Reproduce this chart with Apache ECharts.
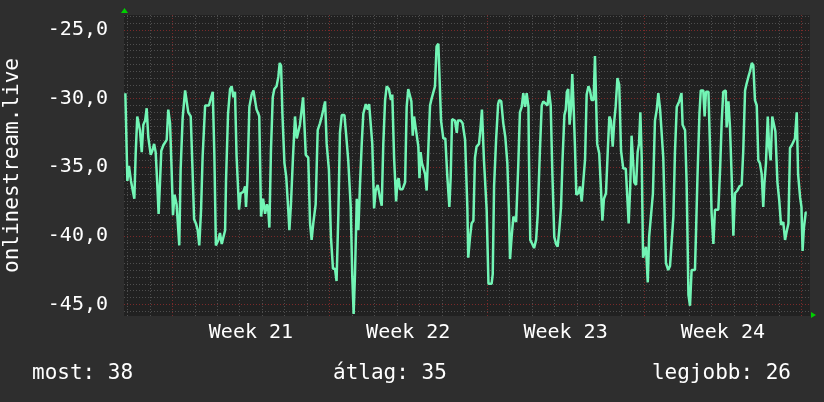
<!DOCTYPE html>
<html>
<head>
<meta charset="utf-8">
<script src="https://cdn.jsdelivr.net/npm/echarts@6/dist/echarts.min.js"></script>
<style>
  html, body { margin: 0; padding: 0; background: #2e2e2e; }
  #chart { width: 824px; height: 402px; }
</style>
</head>
<body>
<div id="chart"></div>
<script>
// x = days since the start of week 21, y = measured value
const days = [
  -2.09,-2.06,-2.00,-1.93,-1.88,-1.84,-1.76,-1.69,-1.63,-1.56,-1.48,-1.44,-1.36,-1.29,-1.21,-1.14,-1.07,-0.96,-0.89,-0.81,-0.74,-0.67,-0.61,-0.55,-0.49,-0.40,-0.25,-0.18,-0.10,-0.03,
  0.03,0.10,0.19,0.31,0.37,0.46,0.57,0.64,0.71,0.82, 0.89,0.97,1.05,1.13,1.20,1.28,1.35,1.46,1.63,1.71, 1.80,1.87,1.94,2.05,2.12,2.20,2.27,2.35,2.39,2.48, 2.57,2.64,2.72,2.79,2.86,2.97,3.04,3.16,3.24,3.28, 3.34,3.43,3.53,3.61,3.68,3.75,3.83,
  3.87,3.95,4.04,4.13,4.21,4.27,4.32,4.39,4.47,4.54, 4.64,4.72,4.78,4.84,4.90,4.99,5.07,5.16,5.21,5.28, 5.37,5.46,5.54,5.61,5.68,5.76,5.82,5.88,5.94,6.05, 6.13,6.20,6.28,6.38,6.47,6.57,6.65,6.72,6.80,6.87, 6.97,7.06,7.15,7.24,7.31,7.39,7.46,7.54,7.66,7.73, 7.83,7.94,8.01,8.07,8.13,8.21,8.28,8.35,8.43,8.50, 8.61,8.70,8.76,8.83,8.90,8.98,9.05,9.14,9.24,9.32, 9.39,9.47,9.54,9.64,9.73,9.79,9.87,
  9.96,10.02,10.07,10.13,10.25,10.36,10.43,10.50,10.58,10.64, 10.70,10.76,10.82,10.88,10.95,11.00,11.05,11.11,11.17,11.25, 11.32,11.39,11.47,11.54,11.62,11.69,11.76,11.84,11.91,11.96, 12.06,12.15,12.24,12.33,12.39,12.45,12.58,12.66,12.71,12.83, 12.92,13.03,13.13,13.17,13.25,13.32,13.40,13.47,13.54,13.65, 13.72,13.78,13.87,13.99,14.07,14.21,14.26,14.32,14.41,14.50, 14.55,14.64,14.73,14.82,14.91,14.98,15.03,15.10,15.18,15.30, 15.40,15.47,15.55,15.62,15.70,15.77,15.85,15.87,
  15.93,16.02,16.10,16.19,16.26,16.36,16.44,16.51,16.59,16.70, 16.76,16.84,16.91,17.00,17.08,17.15,17.22,17.30,17.37,17.45, 17.51,17.56,17.62,17.68,17.74,17.80,17.86,17.92,17.98,18.07, 18.14,18.22,18.29,18.37,18.44,18.52,18.59,18.66,18.75,18.81, 18.86,18.91,19.00,19.08,19.14,19.21,19.30,19.38,19.45,19.52, 19.60,19.67,19.73,19.81,19.89,19.97,20.07,20.18,20.25,20.31, 20.38,20.44,20.50,20.56,20.64,20.71,20.77,20.83,20.89,20.95, 21.01,21.08,21.16,21.22,21.30,21.39,21.48,21.56,21.63,21.71, 21.78,21.85,
  21.97,22.07,22.15,22.22,22.30,22.37,22.45,22.56,22.66,22.71, 22.82,22.89,22.97,23.04,23.11,23.19,23.26,23.31,23.37,23.46, 23.52,23.63,23.69,23.75,23.86,23.93,24.00,24.08,24.15,24.23, 24.30,24.38,24.45,24.52,24.63,24.67,24.75,24.82,24.89,24.97, 25.04,25.15,25.24,25.34,25.41,25.49,25.56,25.64,25.71,25.79, 25.86,25.93,26.01,26.08,26.15,26.23,26.30,26.35,26.42,26.50, 26.56,26.63,26.70,26.78,26.84,26.93,27.01,27.09,27.19,27.27, 27.34,27.42,27.49,27.57,27.64,27.71,27.79,27.85,27.94,28.00, 28.05,28.11,28.19,28.23
];
const values = [
  -29.6,-31.7,-36.0,-34.9,-34.9,-36.0,-36.1,-37.3,-34.0,-31.3,-31.3,-32.3,-33.9,-31.9,-31.6,-30.7,-32.8,-34.1,-33.8,-33.3,-33.9,-36.2,-38.4,-36.2,-33.8,-33.4,-33.0,-30.8,-31.8,-35.2,
  -38.5,-37.0,-37.7,-40.7,-35.2,-31.4,-29.4,-29.4,-31.0,-31.3, -34.7,-38.8,-39.1,-39.6,-40.7,-38.1,-34.2,-30.5,-30.5,-30.0, -29.5,-34.0,-40.7,-40.3,-39.8,-40.6,-40.6,-39.6,-36.0,-31.1, -29.3,-29.1,-29.9,-29.5,-34.2,-38.1,-36.9,-36.8,-36.4,-37.9, -36.0,-30.6,-29.7,-29.4,-29.3,-30.8,-31.1,
  -31.3,-38.6,-37.3,-38.4,-37.7,-38.1,-39.4,-33.8,-29.9,-29.3, -29.1,-28.4,-27.4,-27.6,-31.1,-34.7,-35.7,-38.1,-39.6,-37.7, -34.3,-31.3,-32.9,-32.8,-31.9,-31.8,-29.9,-31.9,-34.1,-34.3, -39.1,-40.3,-39.0,-37.7,-32.3,-31.8,-31.3,-30.8,-30.2,-33.3, -35.2,-40.1,-42.4,-42.4,-43.3,-38.4,-32.5,-31.2,-31.2,-32.5, -34.5,-37.9,-43.0,-45.7,-42.8,-37.3,-39.6,-36.4,-33.3,-31.1, -30.4,-30.8,-30.4,-30.4,-33.3,-38.0,-36.7,-36.3,-37.2,-37.8, -33.3,-30.1,-29.1,-29.3,-30.1,-29.7,-34.3,
  -37.5,-36.0,-35.8,-36.6,-36.6,-36.1,-30.6,-29.3,-29.3,-30.2, -32.7,-31.3,-31.3,-32.7,-33.5,-35.8,-33.9,-34.7,-34.6,-35.5, -36.7,-33.8,-30.5,-30.0,-30.1,-29.1,-26.2,-26.0,-26.0,-31.6, -32.9,-32.9,-35.7,-37.9,-35.7,-31.5,-31.6,-32.5,-31.6,-31.6, -31.8,-33.0,-37.9,-41.6,-40.1,-39.1,-38.9,-34.3,-33.5,-33.3, -32.1,-30.8,-34.5,-38.1,-43.5,-43.5,-42.8,-36.4,-33.0,-30.4, -30.1,-30.2,-31.8,-32.8,-34.7,-38.1,-41.7,-40.1,-38.6,-39.0, -34.7,-31.0,-30.6,-29.6,-30.6,-29.6,-30.6,-34.0,
  -40.3,-40.6,-40.9,-40.3,-38.5,-33.8,-30.5,-30.2,-30.1,-30.5, -29.4,-30.5,-35.2,-40.1,-40.6,-40.8,-39.6,-37.9,-34.3,-31.2, -30.8,-29.5,-29.3,-31.9,-30.8,-28.2,-30.6,-33.5,-37.0,-36.9, -36.4,-37.5,-37.5,-34.4,-29.7,-29.1,-29.4,-30.1,-30.1,-26.9, -26.9,-33.3,-34.0,-36.7,-38.9,-37.3,-36.9,-33.8,-31.3,-31.6, -33.5,-31.6,-30.6,-28.5,-29.0,-33.8,-35.1,-35.1,-37.2,-39.1, -36.4,-32.7,-32.7,-36.1,-36.3,-33.9,-33.3,-31.0,-34.3,-41.6, -41.6,-40.8,-43.4,-40.1,-40.1,-36.9,-31.6,-30.8,-29.6,-30.8, -30.7,-34.3,
  -42.0,-42.5,-42.2,-42.3,-38.6,-33.9,-30.6,-30.2,-29.6,-31.9, -32.3,-36.2,-44.3,-45.1,-42.5,-42.5,-42.5,-39.6,-35.8,-31.1, -29.4,-29.4,-31.3,-29.5,-29.5,-33.5,-38.3,-40.6,-38.1,-38.1, -38.1,-35.1,-31.7,-29.5,-29.4,-32.1,-30.2,-32.1,-35.5,-40.0, -36.9,-36.7,-36.4,-36.3,-33.8,-29.4,-28.9,-28.4,-28.0,-27.4, -27.6,-30.1,-30.5,-34.5,-34.7,-35.5,-37.9,-36.2,-34.7,-31.3, -33.5,-34.5,-31.3,-31.2,-32.4,-36.1,-37.4,-39.2,-39.0,-40.3, -39.7,-39.1,-33.6,-33.4,-33.3,-32.9,-31.0,-35.5,-37.2,-37.9, -41.1,-39.4,-38.3,-38.3
];

const weekPos = [3.5, 10.5, 17.5, 24.5];
const weekLabels = ['Week 21', 'Week 22', 'Week 23', 'Week 24'];
const weekStarts = [0, 7, 14, 21, 28];
const yTicks = [-45, -40, -35, -30, -25];
const footer = ['most: 38', 'átlag: 35', 'legjobb: 26'];

if (days.length !== values.length) console.log('length mismatch', days.length, values.length);

const FONT = 'DejaVu Sans Mono';
const textCol = '#ffffff';

// grid lines (rrdtool style): minor gray every day / 0.5 unit, major red
const minorStyle = { color: '#4e4e4e', type: [1, 2], width: 1 };
const majorStyle = { color: '#7a2a2a', type: [1, 2], width: 1 };
const gridLines = [];
for (let d = -2; d <= 28; d++) {
  gridLines.push({ xAxis: d, lineStyle: weekStarts.includes(d) ? majorStyle : minorStyle });
}
for (let v = -45.5; v <= -24; v += 0.5) {
  gridLines.push({ yAxis: v, lineStyle: yTicks.includes(v) ? majorStyle : minorStyle });
}

const chart = echarts.init(document.getElementById('chart'));

chart.setOption({
  backgroundColor: '#2e2e2e',
  animation: false,
  title: [
    { text: footer[0], left: 32, top: 363, padding: 0 },
    { text: footer[1], left: 333, top: 363, padding: 0 },
    { text: footer[2], right: 33, top: 363, padding: 0 }
  ].map(t => Object.assign(t, {
    textStyle: { color: textCol, fontFamily: FONT, fontSize: 21, fontWeight: 'normal' }
  })),
  grid: {
    left: 124, right: 14, top: 15, bottom: 86,
    outerBoundsMode: 'none',
    containLabel: false,
    show: true, backgroundColor: '#212121', borderWidth: 0
  },
  xAxis: {
    type: 'value',
    min: -2.15,
    max: 28.38,
    splitLine: { show: false },
    axisLine: { show: false },
    axisTick: { show: false },
    axisLabel: {
      customValues: weekPos,
      formatter: v => weekLabels[weekPos.indexOf(v)],
      color: textCol, fontFamily: FONT, fontSize: 20, margin: 7
    }
  },
  yAxis: {
    type: 'value',
    min: -45.85,
    max: -23.9,
    name: 'onlinestream.live',
    nameLocation: 'middle',
    nameGap: 101,
    nameTextStyle: { color: textCol, fontFamily: FONT, fontSize: 21 },
    splitLine: { show: false },
    axisLine: { show: false },
    axisTick: { show: false },
    axisLabel: {
      customValues: yTicks,
      formatter: v => v.toFixed(1).replace('.', ','),
      color: textCol, fontFamily: FONT, fontSize: 20, margin: 16
    }
  },
  graphic: [
    { type: 'polygon', shape: { points: [[121, 13], [128, 13], [124.5, 8]] }, style: { fill: '#00d000' } },
    { type: 'polygon', shape: { points: [[811, 312], [811, 318], [816, 315]] }, style: { fill: '#00d000' } }
  ],
  series: [
    {
      name: 'grid',
      type: 'line',
      data: [],
      z: 1,
      silent: true,
      markLine: {
        silent: true,
        symbol: 'none',
        label: { show: false },
        animation: false,
        data: gridLines
      }
    },
    {
      name: 'onlinestream.live',
      type: 'line',
      z: 5,
      showSymbol: false,
      data: days.map((d, i) => [d, values[i]]),
      lineStyle: { color: '#72f5b5', width: 2.5 }
    }
  ]
});
</script>
</body>
</html>
